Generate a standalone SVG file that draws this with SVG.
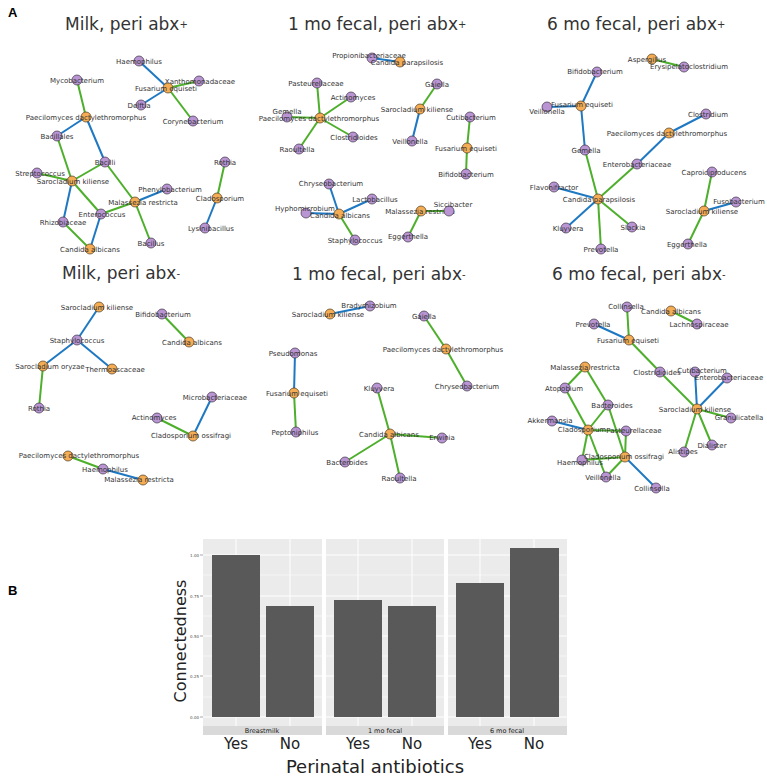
<svg xmlns="http://www.w3.org/2000/svg" width="767" height="777" viewBox="0 0 767 777">
<style>
.p{fill:#b995d4;stroke:#3d3344;stroke-width:0.7}
.o{fill:#f5ad55;stroke:#4d3a20;stroke-width:0.7}
.g{stroke:#4daf2b;stroke-width:2;fill:none}
.b{stroke:#1e78c2;stroke-width:2;fill:none}
.l{font-family:"DejaVu Sans",Verdana,sans-serif;font-size:7px;fill:#333;text-anchor:middle}
.t{font-family:"DejaVu Sans",sans-serif;font-size:17px;fill:#333}
.t tspan{font-size:10px}
.pan{fill:#ebebeb}
.gm{stroke:#fff;stroke-width:1}
.gn{stroke:#fff;stroke-width:0.5}
.bar{fill:#595959}
.tk{font-family:"DejaVu Sans",sans-serif;font-size:4px;fill:#4d4d4d;text-anchor:end}
.st{font-family:"DejaVu Sans",sans-serif;font-size:6.5px;fill:#1a1a1a;text-anchor:middle}
.ax{font-family:"DejaVu Sans",sans-serif;font-size:15px;fill:#222;text-anchor:middle}
.big{font-family:"DejaVu Sans",sans-serif;font-size:18px;fill:#222;text-anchor:middle}
.pl{font-family:"Liberation Sans",Arial,sans-serif;font-size:13px;font-weight:bold;fill:#000}
</style>
<rect width="767" height="777" fill="#fff"/>
<text class="pl" x="8" y="17">A</text>
<text class="pl" x="8" y="595">B</text>
<g id="titles">
<text class="t" x="65" y="30">Milk, peri abx<tspan dy="-2">+</tspan></text>
<text class="t" x="288" y="30">1 mo fecal, peri abx<tspan dy="-2">+</tspan></text>
<text class="t" x="547" y="30">6 mo fecal, peri abx<tspan dy="-2">+</tspan></text>
<text class="t" x="62" y="279">Milk, peri abx<tspan dy="-2">-</tspan></text>
<text class="t" x="292" y="280">1 mo fecal, peri abx<tspan dy="-2">-</tspan></text>
<text class="t" x="552" y="280">6 mo fecal, peri abx<tspan dy="-2">-</tspan></text>
</g>
<g id="connectors">
<line class="b" x1="139" y1="61" x2="168" y2="88"/>
<line class="g" x1="199" y1="81" x2="168" y2="88"/>
<line class="b" x1="141" y1="105" x2="168" y2="88"/>
<line class="g" x1="193" y1="121" x2="168" y2="88"/>
<line class="g" x1="77" y1="80" x2="86" y2="117"/>
<line class="b" x1="86" y1="117" x2="57" y2="136"/>
<line class="b" x1="86" y1="117" x2="105" y2="162"/>
<line class="g" x1="57" y1="136" x2="72" y2="181"/>
<line class="g" x1="105" y1="162" x2="72" y2="181"/>
<line class="g" x1="37" y1="173" x2="72" y2="181"/>
<line class="b" x1="72" y1="181" x2="63" y2="222"/>
<line class="g" x1="72" y1="181" x2="101" y2="214"/>
<line class="g" x1="105" y1="162" x2="135" y2="202"/>
<line class="b" x1="167" y1="189" x2="135" y2="202"/>
<line class="g" x1="101" y1="214" x2="135" y2="202"/>
<line class="g" x1="135" y1="202" x2="151" y2="243"/>
<line class="b" x1="101" y1="214" x2="90" y2="249"/>
<line class="g" x1="63" y1="222" x2="90" y2="249"/>
<line class="g" x1="225" y1="162" x2="217" y2="198"/>
<line class="b" x1="217" y1="198" x2="205" y2="228"/>
<line class="b" x1="372" y1="58" x2="400" y2="62"/>
<line class="g" x1="317" y1="83" x2="320" y2="118"/>
<line class="g" x1="351" y1="97" x2="320" y2="118"/>
<line class="g" x1="287" y1="117" x2="320" y2="118"/>
<line class="g" x1="320" y1="118" x2="353" y2="137"/>
<line class="g" x1="320" y1="118" x2="299" y2="149"/>
<line class="g" x1="437" y1="84" x2="420" y2="109"/>
<line class="b" x1="420" y1="109" x2="412" y2="141"/>
<line class="g" x1="470" y1="117" x2="467" y2="148"/>
<line class="g" x1="467" y1="148" x2="466" y2="174"/>
<line class="b" x1="329" y1="184" x2="339" y2="214"/>
<line class="b" x1="372" y1="199" x2="339" y2="214"/>
<line class="b" x1="306" y1="213" x2="339" y2="214"/>
<line class="g" x1="339" y1="214" x2="355" y2="240"/>
<line class="g" x1="421" y1="211" x2="449" y2="211"/>
<line class="g" x1="421" y1="211" x2="408" y2="237"/>
<line class="g" x1="652" y1="59" x2="684" y2="67"/>
<line class="b" x1="597" y1="72" x2="581" y2="106"/>
<line class="b" x1="547" y1="107" x2="581" y2="106"/>
<line class="b" x1="581" y1="106" x2="585" y2="150"/>
<line class="b" x1="706" y1="114" x2="669" y2="133"/>
<line class="b" x1="669" y1="133" x2="637" y2="164"/>
<line class="g" x1="585" y1="150" x2="598" y2="199"/>
<line class="g" x1="637" y1="164" x2="598" y2="199"/>
<line class="b" x1="554" y1="187" x2="598" y2="199"/>
<line class="b" x1="598" y1="199" x2="566" y2="228"/>
<line class="g" x1="598" y1="199" x2="632" y2="227"/>
<line class="g" x1="598" y1="199" x2="601" y2="249"/>
<line class="g" x1="712" y1="172" x2="704" y2="211"/>
<line class="b" x1="736" y1="202" x2="704" y2="211"/>
<line class="g" x1="704" y1="211" x2="688" y2="244"/>
<line class="b" x1="99" y1="307" x2="77" y2="340"/>
<line class="g" x1="162" y1="314" x2="189" y2="342"/>
<line class="b" x1="77" y1="340" x2="43" y2="366"/>
<line class="b" x1="77" y1="340" x2="112" y2="369"/>
<line class="g" x1="43" y1="366" x2="39" y2="408"/>
<line class="b" x1="212" y1="397" x2="193" y2="436"/>
<line class="g" x1="157" y1="418" x2="193" y2="436"/>
<line class="g" x1="68" y1="456" x2="103" y2="469"/>
<line class="b" x1="103" y1="469" x2="143" y2="480"/>
<line class="b" x1="370" y1="306" x2="330" y2="314"/>
<line class="g" x1="424" y1="316" x2="446" y2="349"/>
<line class="g" x1="446" y1="349" x2="467" y2="386"/>
<line class="b" x1="295" y1="353" x2="294" y2="393"/>
<line class="g" x1="294" y1="393" x2="296" y2="432"/>
<line class="g" x1="377" y1="388" x2="390" y2="434"/>
<line class="g" x1="390" y1="434" x2="442" y2="438"/>
<line class="g" x1="390" y1="434" x2="345" y2="462"/>
<line class="g" x1="390" y1="434" x2="400" y2="478"/>
<line class="g" x1="627" y1="307" x2="629" y2="340"/>
<line class="b" x1="594" y1="324" x2="629" y2="340"/>
<line class="g" x1="671" y1="311" x2="697" y2="324"/>
<line class="g" x1="629" y1="340" x2="660" y2="372"/>
<line class="g" x1="660" y1="372" x2="697" y2="409"/>
<line class="b" x1="695" y1="372" x2="697" y2="409"/>
<line class="b" x1="727" y1="378" x2="697" y2="409"/>
<line class="g" x1="697" y1="409" x2="731" y2="418"/>
<line class="g" x1="697" y1="409" x2="712" y2="445"/>
<line class="g" x1="697" y1="409" x2="684" y2="452"/>
<line class="g" x1="585" y1="367" x2="565" y2="388"/>
<line class="g" x1="585" y1="367" x2="608" y2="405"/>
<line class="g" x1="565" y1="388" x2="588" y2="430"/>
<line class="g" x1="608" y1="405" x2="588" y2="430"/>
<line class="g" x1="608" y1="405" x2="625" y2="457"/>
<line class="b" x1="552" y1="421" x2="588" y2="430"/>
<line class="g" x1="588" y1="430" x2="626" y2="431"/>
<line class="g" x1="626" y1="431" x2="625" y2="457"/>
<line class="g" x1="588" y1="430" x2="582" y2="460"/>
<line class="g" x1="588" y1="430" x2="606" y2="477"/>
<line class="g" x1="582" y1="460" x2="625" y2="457"/>
<line class="g" x1="625" y1="457" x2="606" y2="477"/>
<line class="b" x1="625" y1="457" x2="656" y2="488"/>
</g>
<g id="nodes-p1">
<g id="p1-haemophilus"><circle class="p" cx="139" cy="61" r="5"/><text class="l" x="139" y="63.5">Haemophilus</text></g>
<g id="p1-mycobacterium"><circle class="p" cx="77" cy="80" r="5"/><text class="l" x="77" y="82.5">Mycobacterium</text></g>
<g id="p1-xanthomonadaceae"><circle class="p" cx="199" cy="81" r="5"/><text class="l" x="200" y="83.5">Xanthomonadaceae</text></g>
<g id="p1-fusarium"><circle class="o" cx="168" cy="88" r="5"/><text class="l" x="166" y="90.5">Fusarium equiseti</text></g>
<g id="p1-delftia"><circle class="p" cx="141" cy="105" r="5"/><text class="l" x="139" y="107.5">Delftia</text></g>
<g id="p1-paecilomyces"><circle class="o" cx="86" cy="117" r="5"/><text class="l" x="86" y="119.5">Paecilomyces dactylethromorphus</text></g>
<g id="p1-corynebacterium"><circle class="p" cx="193" cy="121" r="5"/><text class="l" x="193" y="123.5">Corynebacterium</text></g>
<g id="p1-bacillales"><circle class="p" cx="57" cy="136" r="5"/><text class="l" x="57" y="138.5">Bacillales</text></g>
<g id="p1-bacilli"><circle class="p" cx="105" cy="162" r="5"/><text class="l" x="105" y="164.5">Bacilli</text></g>
<g id="p1-streptococcus"><circle class="p" cx="37" cy="173" r="5"/><text class="l" x="40" y="176">Streptococcus</text></g>
<g id="p1-sarocladium"><circle class="o" cx="72" cy="181" r="5"/><text class="l" x="73" y="183.5">Sarocladium kiliense</text></g>
<g id="p1-rothia"><circle class="p" cx="225" cy="162" r="5"/><text class="l" x="225" y="164.5">Rothia</text></g>
<g id="p1-phenylobacterium"><circle class="p" cx="167" cy="189" r="5"/><text class="l" x="170" y="191.5">Phenylobacterium</text></g>
<g id="p1-malassezia"><circle class="o" cx="135" cy="202" r="5"/><text class="l" x="143" y="204.5">Malassezia restricta</text></g>
<g id="p1-cladosporium"><circle class="o" cx="217" cy="198" r="5"/><text class="l" x="220" y="200.5">Cladosporium</text></g>
<g id="p1-enterococcus"><circle class="p" cx="101" cy="214" r="5"/><text class="l" x="102" y="216.5">Enterococcus</text></g>
<g id="p1-rhizobiaceae"><circle class="p" cx="63" cy="222" r="5"/><text class="l" x="63" y="224.5">Rhizobiaceae</text></g>
<g id="p1-lysinibacillus"><circle class="p" cx="205" cy="228" r="5"/><text class="l" x="211" y="230.5">Lysinibacillus</text></g>
<g id="p1-bacillus"><circle class="p" cx="151" cy="243" r="5"/><text class="l" x="151" y="245.5">Bacillus</text></g>
<g id="p1-candida"><circle class="o" cx="90" cy="249" r="5"/><text class="l" x="90" y="251.5">Candida albicans</text></g>
</g>
<g id="nodes-p2">
<g id="p2-propionibacteriaceae"><circle class="p" cx="372" cy="58" r="5"/><text class="l" x="369" y="57.5">Propionibacteriaceae</text></g>
<g id="p2-cparapsilosis"><circle class="o" cx="400" cy="62" r="5"/><text class="l" x="407" y="64.5">Candida parapsilosis</text></g>
<g id="p2-pasteurellaceae"><circle class="p" cx="317" cy="83" r="5"/><text class="l" x="316" y="85.5">Pasteurellaceae</text></g>
<g id="p2-actinomyces"><circle class="p" cx="351" cy="97" r="5"/><text class="l" x="353" y="99.5">Actinomyces</text></g>
<g id="p2-gemella"><circle class="p" cx="287" cy="117" r="5"/><text class="l" x="287" y="113.5">Gemella</text></g>
<g id="p2-paecilomyces"><circle class="o" cx="320" cy="118" r="5"/><text class="l" x="319" y="120.5">Paecilomyces dactylethromorphus</text></g>
<g id="p2-gaiella"><circle class="p" cx="437" cy="84" r="5"/><text class="l" x="437" y="86.5">Gaiella</text></g>
<g id="p2-sarocladium"><circle class="o" cx="420" cy="109" r="5"/><text class="l" x="417" y="111.5">Sarocladium kiliense</text></g>
<g id="p2-cutibacterium"><circle class="p" cx="470" cy="117" r="5"/><text class="l" x="471" y="119.5">Cutibacterium</text></g>
<g id="p2-clostridioides"><circle class="p" cx="353" cy="137" r="5"/><text class="l" x="354" y="139.5">Clostridioides</text></g>
<g id="p2-raoultella"><circle class="p" cx="299" cy="149" r="5"/><text class="l" x="297" y="151.5">Raoultella</text></g>
<g id="p2-veillonella"><circle class="p" cx="412" cy="141" r="5"/><text class="l" x="410" y="143.5">Veillonella</text></g>
<g id="p2-fusarium"><circle class="o" cx="467" cy="148" r="5"/><text class="l" x="466" y="150.5">Fusarium equiseti</text></g>
<g id="p2-bifidobacterium"><circle class="p" cx="466" cy="174" r="5"/><text class="l" x="466" y="176.5">Bifidobacterium</text></g>
<g id="p2-chryseobacterium"><circle class="p" cx="329" cy="184" r="5"/><text class="l" x="331" y="185.5">Chryseobacterium</text></g>
<g id="p2-lactobacillus"><circle class="p" cx="372" cy="199" r="5"/><text class="l" x="375" y="201.5">Lactobacillus</text></g>
<g id="p2-hyphomicrobium"><circle class="p" cx="306" cy="213" r="5"/><text class="l" x="305" y="210.5">Hyphomicrobium</text></g>
<g id="p2-candida"><circle class="o" cx="339" cy="214" r="5"/><text class="l" x="340" y="217.5">Candida albicans</text></g>
<g id="p2-staphylococcus"><circle class="p" cx="355" cy="240" r="5"/><text class="l" x="355" y="242.5">Staphylococcus</text></g>
<g id="p2-malassezia"><circle class="o" cx="421" cy="211" r="5"/><text class="l" x="420" y="214">Malassezia restricta</text></g>
<g id="p2-siccibacter"><circle class="p" cx="449" cy="211" r="5"/><text class="l" x="453" y="207">Siccibacter</text></g>
<g id="p2-eggerthella"><circle class="p" cx="408" cy="237" r="5"/><text class="l" x="408" y="238.5">Eggerthella</text></g>
</g>
<g id="nodes-p3">
<g id="p3-aspergillus"><circle class="o" cx="652" cy="59" r="5"/><text class="l" x="647" y="61.5">Aspergillus</text></g>
<g id="p3-erysipelatoclostridium"><circle class="p" cx="684" cy="67" r="5"/><text class="l" x="689" y="68.5">Erysipelatoclostridium</text></g>
<g id="p3-bifidobacterium"><circle class="p" cx="597" cy="72" r="5"/><text class="l" x="595" y="73.5">Bifidobacterium</text></g>
<g id="p3-fusarium"><circle class="o" cx="581" cy="106" r="5"/><text class="l" x="582" y="106.5">Fusarium equiseti</text></g>
<g id="p3-veillonella"><circle class="p" cx="547" cy="107" r="5"/><text class="l" x="547" y="114">Veillonella</text></g>
<g id="p3-clostridium"><circle class="p" cx="706" cy="114" r="5"/><text class="l" x="708" y="116.5">Clostridium</text></g>
<g id="p3-paecilomyces"><circle class="o" cx="669" cy="133" r="5"/><text class="l" x="667" y="135.5">Paecilomyces dactylethromorphus</text></g>
<g id="p3-gemella"><circle class="p" cx="585" cy="150" r="5"/><text class="l" x="586" y="152.5">Gemella</text></g>
<g id="p3-enterobacteriaceae"><circle class="p" cx="637" cy="164" r="5"/><text class="l" x="637" y="166.5">Enterobacteriaceae</text></g>
<g id="p3-flavonifractor"><circle class="p" cx="554" cy="187" r="5"/><text class="l" x="554" y="189.5">Flavonifractor</text></g>
<g id="p3-cparapsilosis"><circle class="o" cx="598" cy="199" r="5"/><text class="l" x="599" y="201.5">Candida parapsilosis</text></g>
<g id="p3-kluyvera"><circle class="p" cx="566" cy="228" r="5"/><text class="l" x="568" y="230.5">Kluyvera</text></g>
<g id="p3-slackia"><circle class="p" cx="632" cy="227" r="5"/><text class="l" x="633" y="229.5">Slackia</text></g>
<g id="p3-prevotella"><circle class="p" cx="601" cy="249" r="5"/><text class="l" x="601" y="251.5">Prevotella</text></g>
<g id="p3-caproiciproducens"><circle class="p" cx="712" cy="172" r="5"/><text class="l" x="714" y="174.5">Caproiciproducens</text></g>
<g id="p3-fusobacterium"><circle class="p" cx="736" cy="202" r="5"/><text class="l" x="739" y="203.5">Fusobacterium</text></g>
<g id="p3-sarocladium"><circle class="o" cx="704" cy="211" r="5"/><text class="l" x="702" y="213.5">Sarocladium kiliense</text></g>
<g id="p3-eggerthella"><circle class="p" cx="688" cy="244" r="5"/><text class="l" x="687" y="246.5">Eggerthella</text></g>
</g>
<g id="nodes-p4">
<g id="p4-sarocladium"><circle class="o" cx="99" cy="307" r="5"/><text class="l" x="97" y="309.5">Sarocladium kiliense</text></g>
<g id="p4-bifidobacterium"><circle class="p" cx="162" cy="314" r="5"/><text class="l" x="163" y="317">Bifidobacterium</text></g>
<g id="p4-staphylococcus"><circle class="p" cx="77" cy="340" r="5"/><text class="l" x="77" y="342.5">Staphylococcus</text></g>
<g id="p4-candida"><circle class="o" cx="189" cy="342" r="5"/><text class="l" x="192" y="345">Candida albicans</text></g>
<g id="p4-sarocladium-oryzae"><circle class="o" cx="43" cy="366" r="5"/><text class="l" x="50" y="368.5">Sarocladium oryzae</text></g>
<g id="p4-thermoascaceae"><circle class="o" cx="112" cy="369" r="5"/><text class="l" x="115" y="372">Thermoascaceae</text></g>
<g id="p4-rothia"><circle class="p" cx="39" cy="408" r="5"/><text class="l" x="39" y="410.5">Rothia</text></g>
<g id="p4-microbacteriaceae"><circle class="p" cx="212" cy="397" r="5"/><text class="l" x="215" y="399.5">Microbacteriaceae</text></g>
<g id="p4-actinomyces"><circle class="p" cx="157" cy="418" r="5"/><text class="l" x="154" y="419.5">Actinomyces</text></g>
<g id="p4-cladosporium"><circle class="o" cx="193" cy="436" r="5"/><text class="l" x="191" y="437.5">Cladosporium ossifragi</text></g>
<g id="p4-paecilomyces"><circle class="o" cx="68" cy="456" r="5"/><text class="l" x="79" y="457.5">Paecilomyces dactylethromorphus</text></g>
<g id="p4-haemophilus"><circle class="p" cx="103" cy="469" r="5"/><text class="l" x="105" y="471.5">Haemophilus</text></g>
<g id="p4-malassezia"><circle class="o" cx="143" cy="480" r="5"/><text class="l" x="139" y="481.5">Malassezia restricta</text></g>
</g>
<g id="nodes-p5">
<g id="p5-bradyrhizobium"><circle class="p" cx="370" cy="306" r="5"/><text class="l" x="369" y="307.5">Bradyrhizobium</text></g>
<g id="p5-sarocladium"><circle class="o" cx="330" cy="314" r="5"/><text class="l" x="328" y="316.5">Sarocladium kiliense</text></g>
<g id="p5-gaiella"><circle class="p" cx="424" cy="316" r="5"/><text class="l" x="424" y="318.5">Gaiella</text></g>
<g id="p5-paecilomyces"><circle class="o" cx="446" cy="349" r="5"/><text class="l" x="443" y="351.5">Paecilomyces dactylethromorphus</text></g>
<g id="p5-chryseobacterium"><circle class="p" cx="467" cy="386" r="5"/><text class="l" x="467" y="388.5">Chryseobacterium</text></g>
<g id="p5-pseudomonas"><circle class="p" cx="295" cy="353" r="5"/><text class="l" x="293" y="355.5">Pseudomonas</text></g>
<g id="p5-fusarium"><circle class="o" cx="294" cy="393" r="5"/><text class="l" x="297" y="395.5">Fusarium equiseti</text></g>
<g id="p5-peptoniphilus"><circle class="p" cx="296" cy="432" r="5"/><text class="l" x="295" y="434.5">Peptoniphilus</text></g>
<g id="p5-kluyvera"><circle class="p" cx="377" cy="388" r="5"/><text class="l" x="379" y="390.5">Kluyvera</text></g>
<g id="p5-candida"><circle class="o" cx="390" cy="434" r="5"/><text class="l" x="389" y="436.5">Candida albicans</text></g>
<g id="p5-erwinia"><circle class="p" cx="442" cy="438" r="5"/><text class="l" x="442" y="439.5">Erwinia</text></g>
<g id="p5-bacteroides"><circle class="p" cx="345" cy="462" r="5"/><text class="l" x="347" y="464.5">Bacteroides</text></g>
<g id="p5-raoultella"><circle class="p" cx="400" cy="478" r="5"/><text class="l" x="399" y="480.5">Raoultella</text></g>
</g>
<g id="nodes-p6">
<g id="p6-collinsella"><circle class="p" cx="627" cy="307" r="5"/><text class="l" x="626" y="308.5">Collinsella</text></g>
<g id="p6-candida"><circle class="o" cx="671" cy="311" r="5"/><text class="l" x="671" y="313.5">Candida albicans</text></g>
<g id="p6-prevotella"><circle class="p" cx="594" cy="324" r="5"/><text class="l" x="593" y="326.5">Prevotella</text></g>
<g id="p6-lachnospiraceae"><circle class="p" cx="697" cy="324" r="5"/><text class="l" x="699" y="326.5">Lachnospiraceae</text></g>
<g id="p6-fusarium"><circle class="o" cx="629" cy="340" r="5"/><text class="l" x="628" y="342.5">Fusarium equiseti</text></g>
<g id="p6-malassezia"><circle class="o" cx="585" cy="367" r="5"/><text class="l" x="585" y="369.5">Malassezia restricta</text></g>
<g id="p6-clostridioides"><circle class="p" cx="660" cy="372" r="5"/><text class="l" x="657" y="374.5">Clostridioides</text></g>
<g id="p6-cutibacterium"><circle class="p" cx="695" cy="372" r="5"/><text class="l" x="702" y="372.5">Cutibacterium</text></g>
<g id="p6-enterobacteriaceae"><circle class="p" cx="727" cy="378" r="5"/><text class="l" x="729" y="379.5">Enterobacteriaceae</text></g>
<g id="p6-atopobium"><circle class="p" cx="565" cy="388" r="5"/><text class="l" x="564" y="390.5">Atopobium</text></g>
<g id="p6-bacteroides"><circle class="p" cx="608" cy="405" r="5"/><text class="l" x="612" y="407.5">Bacteroides</text></g>
<g id="p6-sarocladium"><circle class="o" cx="697" cy="409" r="5"/><text class="l" x="695" y="411.5">Sarocladium kiliense</text></g>
<g id="p6-granulicatella"><circle class="p" cx="731" cy="418" r="5"/><text class="l" x="739" y="419.5">Granulicatella</text></g>
<g id="p6-akkermansia"><circle class="p" cx="552" cy="421" r="5"/><text class="l" x="550" y="422.5">Akkermansia</text></g>
<g id="p6-cladosporium"><circle class="o" cx="588" cy="430" r="5"/><text class="l" x="582" y="431.5">Cladosporium</text></g>
<g id="p6-pasteurellaceae"><circle class="p" cx="626" cy="431" r="5"/><text class="l" x="634" y="432.5">Pasteurellaceae</text></g>
<g id="p6-dialister"><circle class="p" cx="712" cy="445" r="5"/><text class="l" x="712" y="447.5">Dialister</text></g>
<g id="p6-alistipes"><circle class="p" cx="684" cy="452" r="5"/><text class="l" x="683" y="453.5">Alistipes</text></g>
<g id="p6-haemophilus"><circle class="p" cx="582" cy="460" r="5"/><text class="l" x="580" y="465">Haemophilus</text></g>
<g id="p6-cladosporium-ossifragi"><circle class="o" cx="625" cy="457" r="5"/><text class="l" x="624" y="458.5">Cladosporium ossifragi</text></g>
<g id="p6-veillonella"><circle class="p" cx="606" cy="477" r="5"/><text class="l" x="603" y="479.5">Veillonella</text></g>
<g id="p6-collinsella2"><circle class="p" cx="656" cy="488" r="5"/><text class="l" x="652" y="490.5">Collinsella</text></g>
</g>
<g id="barchart">
<rect class="pan" x="203" y="539" width="119" height="187"/>
<rect class="pan" x="326" y="539" width="118" height="187"/>
<rect class="pan" x="448" y="539" width="119" height="187"/>
<g id="grid">
<path class="gn" d="M203 697H322M203 656H322M203 616H322M203 575H322M326 697H444M326 656H444M326 616H444M326 575H444M448 697H567M448 656H567M448 616H567M448 575H567"/>
<path class="gm" d="M203 717H322M203 676H322M203 636H322M203 596H322M203 555H322M326 717H444M326 676H444M326 636H444M326 596H444M326 555H444M448 717H567M448 676H567M448 636H567M448 596H567M448 555H567"/>
<path class="gm" d="M236 539V726M290 539V726M358 539V726M412 539V726M480 539V726M534 539V726"/>
</g>
<rect class="bar" x="212" y="555" width="48" height="162"/>
<rect class="bar" x="266" y="606" width="48" height="111"/>
<rect class="bar" x="334" y="600" width="48" height="117"/>
<rect class="bar" x="388" y="606" width="48" height="111"/>
<rect class="bar" x="456" y="583" width="48" height="134"/>
<rect class="bar" x="510" y="548" width="49" height="169"/>
<rect x="203" y="726" width="119" height="9" fill="#d9d9d9"/>
<rect x="326" y="726" width="118" height="9" fill="#d9d9d9"/>
<rect x="448" y="726" width="119" height="9" fill="#d9d9d9"/>
<text class="st" x="262" y="733">Breastmilk</text>
<text class="st" x="385" y="733">1 mo fecal</text>
<text class="st" x="507" y="733">6 mo fecal</text>
<path d="M200 717H203M200 676H203M200 636H203M200 596H203M200 555H203" stroke="#4d4d4d" stroke-width="0.5"/>
<text class="tk" x="199" y="718.5">0.00</text>
<text class="tk" x="199" y="677.5">0.25</text>
<text class="tk" x="199" y="637.5">0.50</text>
<text class="tk" x="199" y="597.5">0.75</text>
<text class="tk" x="199" y="556.5">1.00</text>
<text class="ax" x="236" y="749">Yes</text>
<text class="ax" x="290" y="749">No</text>
<text class="ax" x="358" y="749">Yes</text>
<text class="ax" x="412" y="749">No</text>
<text class="ax" x="480" y="749">Yes</text>
<text class="ax" x="534" y="749">No</text>
<text class="big" x="375" y="773">Perinatal antibiotics</text>
<text class="big" transform="translate(186 641) rotate(-90)" style="font-size:16px">Connectedness</text>
</g>
</svg>
